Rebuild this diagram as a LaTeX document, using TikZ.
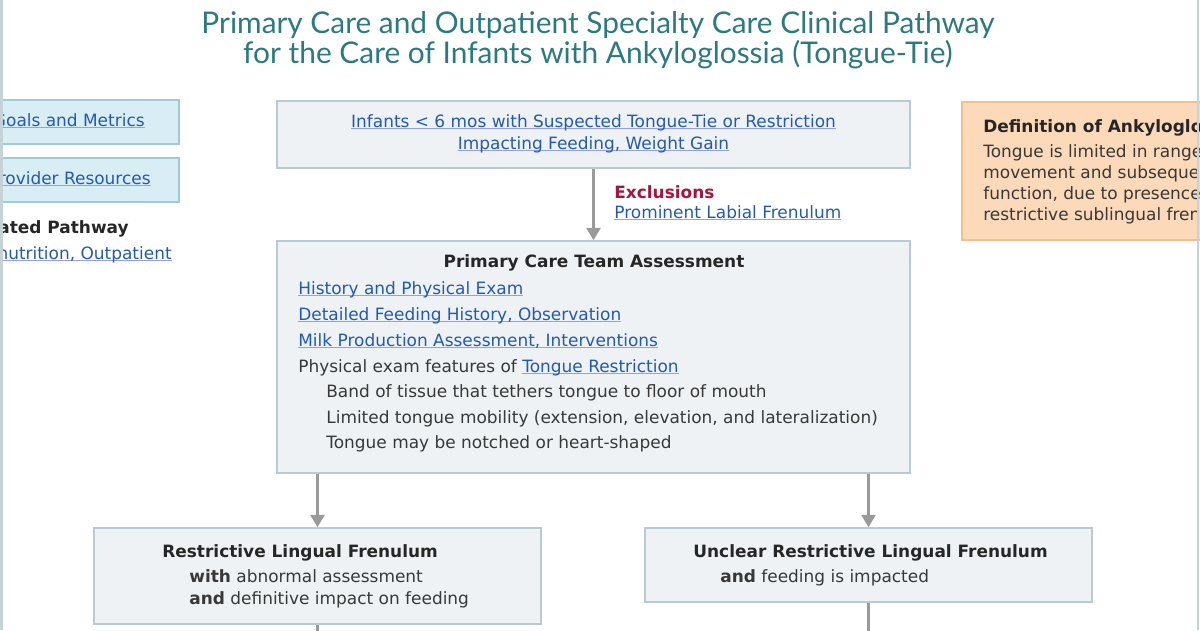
\documentclass[tikz,border=0pt]{standalone}
\usepackage{fontspec}
\setmainfont{DejaVu Sans}
\newfontfamily\titlefont{Lato}
\usetikzlibrary{positioning,arrows.meta}

\definecolor{titlecol}{RGB}{44,122,128}
\definecolor{linkcol}{RGB}{35,89,176}
\definecolor{ulcol}{RGB}{150,160,220}
\definecolor{ink}{RGB}{56,56,56}
\definecolor{exclred}{RGB}{163,23,60}
\definecolor{panelfill}{RGB}{238,242,244}
\definecolor{panelline}{RGB}{184,203,210}
\definecolor{sidefill}{RGB}{216,238,244}
\definecolor{sideline}{RGB}{159,203,214}
\definecolor{deffill}{RGB}{252,217,184}
\definecolor{defline}{RGB}{242,192,142}
\definecolor{flowgrey}{RGB}{154,154,154}
\definecolor{framegrey}{RGB}{197,211,216}

\newsavebox\lnkbox
\newcommand\lnk[1]{\sbox\lnkbox{\color{linkcol}#1}%
  \rlap{\textcolor{ulcol}{\rule[-1.4pt]{\wd\lnkbox}{0.6pt}}}\usebox\lnkbox}

\begin{document}
\begin{tikzpicture}[
    x=0.02cm, y=-0.02cm,
    font=\fontsize{9.65}{12}\selectfont,
    box/.style={draw, rectangle, inner sep=0pt, line width=0.9pt},
    panel/.style={box, fill=panelfill, draw=panelline},
    side/.style={box, fill=sidefill, draw=sideline, minimum width=3.78cm, minimum height=0.88cm},
    defn/.style={box, fill=deffill, draw=defline},
    txt/.style={anchor=base west, inner sep=0pt, text=ink},
    head/.style={txt, font=\fontsize{9.65}{12}\selectfont\bfseries, text=black!85},
    flow/.style={-{Triangle[length=7pt, width=8pt]}, line width=1.2pt, draw=flowgrey},
    cont/.style={line width=1.2pt, draw=flowgrey},
  ]
  \useasboundingbox (0,0) rectangle (1200,630);
  \clip (0,0) rectangle (1200,630);

  % Title
  \node[font=\titlefont\fontsize{17}{16}\selectfont, text=titlecol, align=center] (title) at (598,40)
    {Primary Care and Outpatient Specialty Care Clinical Pathway\\ for the Care of Infants with Ankyloglossia (Tongue-Tie)};

  % Left column (cut at the page edge)
  \node[side] (goals) at (84.5,122) {};
  \node[side] (prov)  at (84.5,180) {};
  \node[txt, anchor=base east] (goalst) at (145,126) {\lnk{Goals and Metrics}};
  \node[txt, anchor=base east] (provt)  at (151,184) {\lnk{Provider Resources}};
  \node[head, anchor=base east] (relt)  at (129,233) {Related Pathway};
  \node[txt, anchor=base east] (rell)   at (172,259) {\lnk{Malnutrition, Outpatient}};

  % Definition box (cut at the right edge)
  \node[defn, minimum width=5.06cm, minimum height=2.76cm] (defbox) at (1088.5,171) {};
  \node[head] (deft) at (983,132) {Definition of Ankyloglossia};
  \node[txt, anchor=west, align=left, font=\fontsize{9.65}{11.9}\selectfont] (defl) at (983,184)
    {Tongue is limited in range of\\ movement and subsequent\\ function, due to presence of a\\ restrictive sublingual frenulum};

  % Entry box
  \node[panel, minimum width=12.66cm, minimum height=1.34cm] (entry) at (593.5,134.5) {};
  \node[txt, anchor=base] (entry1) at (593.5,127) {\lnk{Infants < 6 mos with Suspected Tongue-Tie or Restriction}};
  \node[txt, anchor=base] (entry2) at (593.5,149) {\lnk{Impacting Feeding, Weight Gain}};

  % Exclusions
  \node[head, text=exclred] (exclt) at (614,198) {Exclusions};
  \node[txt] (excll) at (614,218) {\lnk{Prominent Labial Frenulum}};

  % Primary care assessment
  \node[panel, minimum width=12.66cm, minimum height=4.64cm] (assess) at (593.5,357) {};
  \node[head, anchor=base] (assesst) at (594,267) {Primary Care Team Assessment};
  \node[txt] (a1) at (298,294) {\lnk{History and Physical Exam}};
  \node[txt] (a2) at (298,320) {\lnk{Detailed Feeding History, Observation}};
  \node[txt] (a3) at (298,346) {\lnk{Milk Production Assessment, Interventions}};
  \node[txt] (a4) at (298,372) {Physical exam features of \lnk{Tongue Restriction}};
  \node[txt] (a5) at (326,397) {Band of tissue that tethers tongue to floor of mouth};
  \node[txt] (a6) at (326,423) {Limited tongue mobility (extension, elevation, and lateralization)};
  \node[txt] (a7) at (326,448) {Tongue may be notched or heart-shaped};

  % Outcome boxes
  \node[panel, minimum width=8.94cm, minimum height=1.92cm] (restr) at (317.5,576) {};
  \node[head] (restrt) at (162,557) {Restrictive Lingual Frenulum};
  \node[txt] (restr1) at (189,582) {\textbf{with} abnormal assessment};
  \node[txt] (restr2) at (189,604) {\textbf{and} definitive impact on feeding};

  \node[panel, minimum width=8.94cm, minimum height=1.48cm] (unclr) at (868.5,565) {};
  \node[head] (unclrt) at (693,557) {Unclear Restrictive Lingual Frenulum};
  \node[txt] (unclr1) at (720,582) {\textbf{and} feeding is impacted};

  % Flows
  \draw[flow] (entry) -- (assess);
  \draw[flow] (assess.south -| restr.north) -- (restr.north);
  \draw[flow] (assess.south -| unclr.north) -- (unclr.north);
  \coordinate (restrout) at (317.5,640);
  \coordinate (unclrout) at (868.5,640);
  \draw[cont] (restr) -- (restrout);
  \draw[cont] (unclr) -- (unclrout);

  % Page frame
  \draw[framegrey, line width=1.2pt] (1.5,0) -- (1.5,630);
  \draw[framegrey, line width=1.2pt] (1198,0) -- (1198,630);
\end{tikzpicture}
\end{document}
